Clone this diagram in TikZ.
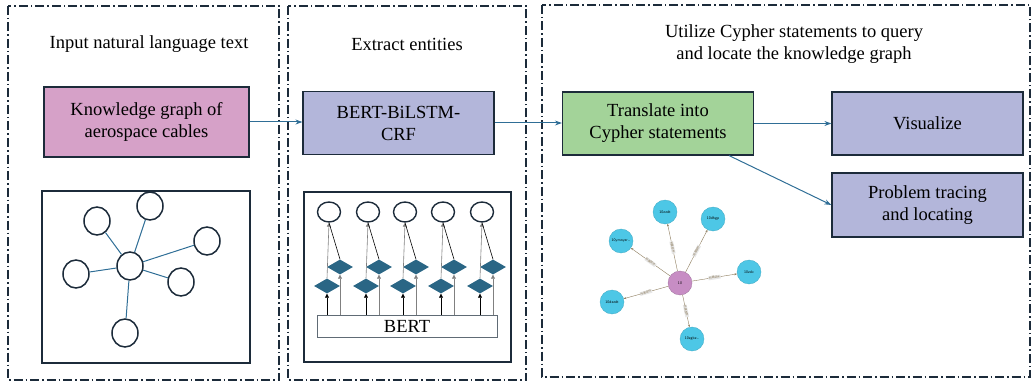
\documentclass[tikz,border=0pt]{standalone}
\usepackage{fontspec}
\setmainfont{Liberation Serif}
\newfontfamily\cjk{Noto Sans CJK SC}
\usetikzlibrary{arrows.meta,shapes.geometric}

\definecolor{frame}{HTML}{1C2B3A}
\definecolor{link}{HTML}{2F6E96}
\definecolor{kgpink}{HTML}{D6A1C8}
\definecolor{lav}{HTML}{B3B6DA}
\definecolor{leaf}{HTML}{A3D399}
\definecolor{dia}{HTML}{2A6685}
\definecolor{cyanball}{HTML}{4DC7E6}
\definecolor{pinkball}{HTML}{C78DC4}
\definecolor{rel}{HTML}{8C7B5C}

\begin{document}
\begin{tikzpicture}[x=1pt,y=-1pt,
  font=\fontsize{18.5}{22}\selectfont,
  panel/.style={draw=frame,line width=1.1pt,dash pattern=on 9pt off 3pt on 1.5pt off 3pt},
  stepbox/.style={draw=frame,line width=1.2pt,align=center,inner sep=0pt,
    minimum width=191pt,minimum height=63pt},
  flow/.style={link,line width=1pt,-{Stealth[length=7pt,width=5pt]}},
  ball/.style={ellipse,draw=frame,line width=1.5pt,fill=white,inner sep=0pt,
    minimum width=26pt,minimum height=28pt},
  cell/.style={ellipse,draw=frame,line width=1.4pt,inner sep=0pt,
    minimum width=23pt,minimum height=20pt},
  gate/.style={diamond,fill=dia,inner sep=0pt,minimum width=26pt,minimum height=15pt},
  up/.style={line width=0.6pt,-{Triangle[length=4pt,width=4pt]}},
  kgnode/.style={circle,fill=cyanball,draw=cyanball!85!black,line width=0.3pt,
    minimum size=24pt,inner sep=0pt,font=\fontsize{3.8}{4}\sffamily},
  rellabel/.style={fill=gray!18,inner sep=0.6pt,font=\fontsize{2.8}{3}\cjk,sloped}]
\useasboundingbox (0,0) rectangle (1033,385);

% three stages
\draw[panel] (8,6) rectangle (279,380);
\draw[panel] (288,6) rectangle (526,380);
\draw[panel] (542,5) rectangle (1030,377);

\node (t1) at (149,44) {Input natural language text};
\node (t2) at (407,44) {Extract entities};
\node[align=center] (t3) at (794,44) {Utilize Cypher statements to query\\and locate the knowledge graph};

% main flow
\node[stepbox,fill=kgpink,minimum width=205pt,minimum height=70pt] (kg) at (146.5,122) {Knowledge graph of\\aerospace cables};
\node[stepbox,fill=lav] (bilstm) at (398.5,123) {BERT-BiLSTM-\\CRF};
\node[stepbox,fill=leaf] (cypher) at (658,123.5) {Translate into\\Cypher statements};
\node[stepbox,fill=lav] (vis) at (927.5,123.5) {Visualize};
\node[stepbox,fill=lav,minimum height=64pt] (trace) at (927.5,205) {Problem tracing\\and locating};

\draw[flow] (kg.east) -- (kg.east -| bilstm.west);
\draw[flow] (bilstm.east) -- (bilstm.east -| cypher.west);
\draw[flow] (cypher.east) -- (cypher.east -| vis.west);
\coordinate (c1) at ([xshift=-25pt]cypher.south east);
\draw[flow] (c1) -- (trace.west);

% sketch of a graph
\draw[frame,line width=1.2pt] (42,191) rectangle (250,363);
\node[ball] (hub) at (130,266) {};
\foreach \n/\x/\y in {a/97/221, b/150/206, c/207/241, d/76/274, e/181/282, f/125/333}
  \node[ball] (\n) at (\x,\y) {};
\foreach \n in {a,b,c,d,e,f}
  \draw[link,line width=1pt] (hub) -- (\n);

% BERT-BiLSTM-CRF layers
\draw[frame,line width=1.2pt] (304,192) rectangle (511,362);
\node[draw=frame!70,line width=0.7pt,minimum width=180pt,minimum height=22pt,inner sep=0pt] (bert) at (407,326) {BERT};
\foreach \i/\x in {1/329, 2/368, 3/405, 4/443, 5/482} {
  \node[cell] (o\i) at (\x,212) {};
  \node[gate] (d\i) at (\x-2,286) {};
  \node[gate] (u\i) at (\x+11,267) {};
  \draw[up] (bert.north -| d\i) -- (d\i.south);
  \draw[up,gray] (bert.north -| u\i) -- (u\i.south);
  \draw[up,gray] (d\i.north) -- (o\i.south);
  \draw[line width=0.6pt] (u\i.north) -- (o\i.south);
}

% query result
\node[kgnode,fill=pinkball,draw=pinkball!80!black] (root) at (680,283) {10};
\foreach \n/\x/\y/\t in {k1/665/212/10zzdt, k2/713/219/10dhgp, k3/621/241/10ymnyzr\ldots,
    k4/749/272/10zdc, k5/612/302/10dzzdt, k6/692/339/10zgbz\ldots} {
  \node[kgnode] (\n) at (\x,\y) {\t};
  \draw[rel,line width=0.4pt,-{Stealth[length=2.5pt,width=2pt]}] (root) -- node[rellabel] {所属部件} (\n);
}
\end{tikzpicture}
\end{document}
